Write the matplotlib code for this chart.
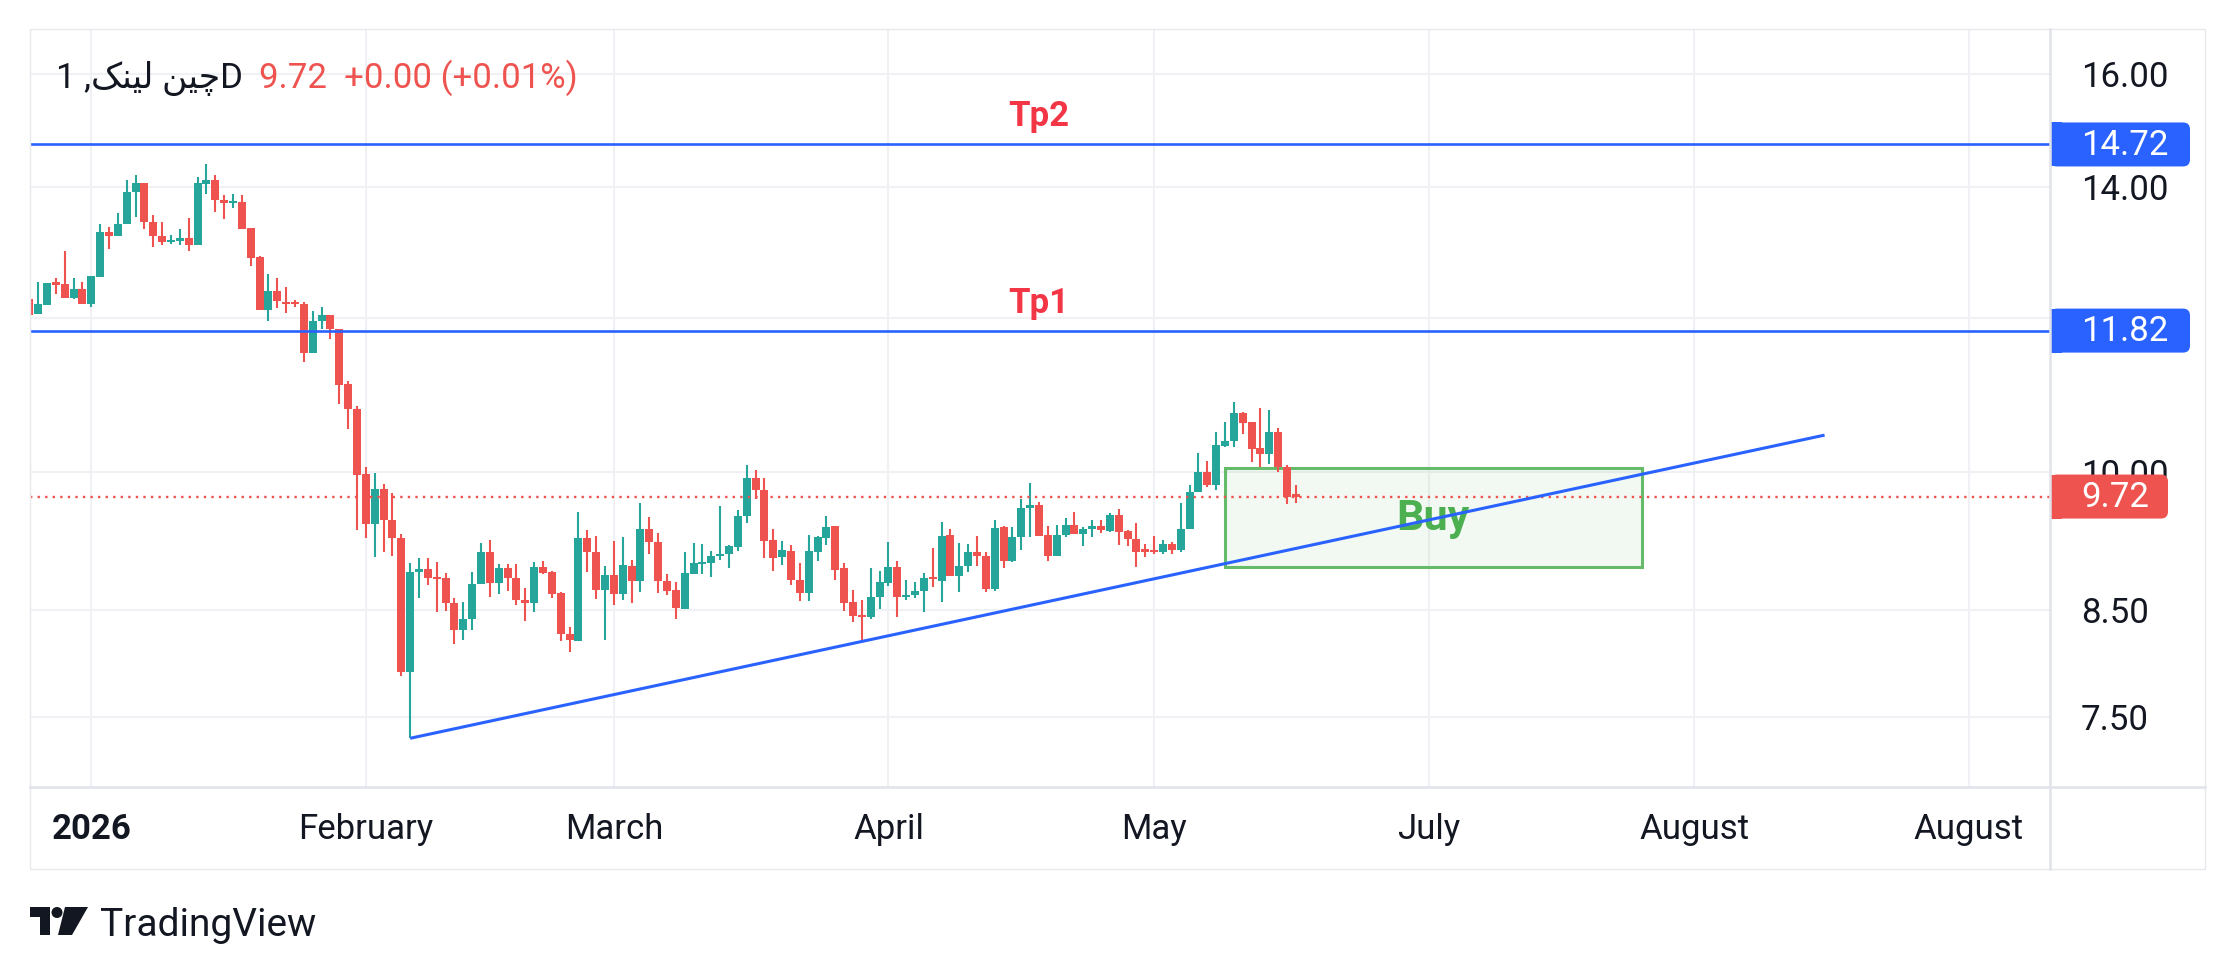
import numpy as np
import matplotlib
matplotlib.use("Agg")
import matplotlib.pyplot as plt
from matplotlib.patches import Rectangle, FancyBboxPatch, Polygon, Circle

plt.rcParams['font.family'] = ['Roboto', 'DejaVu Sans']

# daily candles, x = days since 1 Jan 2026
days = list(range(-7, 137))
opens = [12.27, 12.05, 12.18, 12.50, 12.49, 12.29, 12.42,
         12.19, 12.59, 13.27, 13.22, 13.40, 13.92, 14.06, 13.44, 13.22, 13.12,
         13.13, 13.19, 13.07, 14.05, 14.12, 13.79, 13.74, 13.75, 13.34, 12.89,
         12.11, 12.39, 12.23, 12.21, 12.20, 11.51, 11.95, 12.04, 11.84, 11.10,
         10.78, 9.98, 9.41, 9.81, 9.46, 9.26, 7.90, 8.89, 8.92, 8.83,
         8.83, 8.57, 8.31, 8.41, 8.77, 9.10, 8.78, 8.93, 8.83, 8.60,
         8.57, 8.95, 8.89, 8.68, 8.27, 8.20, 9.26, 9.11, 8.71, 8.86,
         8.67, 8.96, 8.80, 9.36, 9.21, 8.80, 8.71, 8.51, 8.87, 8.98,
         8.99, 9.06, 9.08, 9.16, 9.50, 9.93, 9.80, 9.23, 9.05, 9.12,
         8.81, 8.68, 9.10, 9.26, 9.39, 8.93, 8.58, 8.44, 8.43, 8.63,
         8.78, 8.95, 8.63, 8.66, 8.70, 8.84, 8.80, 9.29, 8.85, 8.96,
         9.10, 9.06, 8.72, 9.38, 9.01, 9.27, 9.59, 9.62, 9.29, 9.06,
         9.29, 9.40, 9.30, 9.36, 9.39, 9.33, 9.51, 9.33, 9.25, 9.12,
         9.11, 9.10, 9.19, 9.13, 9.36, 9.77, 10.00, 9.85, 10.32, 10.38,
         10.72, 10.61, 10.29, 10.22, 10.49, 10.07, 9.73]
highs = [12.40, 12.52, 12.50, 12.58, 12.99, 12.57, 12.52,
         12.61, 13.41, 13.36, 13.57, 14.12, 14.20, 14.06, 13.54, 13.43, 13.23,
         13.33, 13.50, 14.17, 14.39, 14.20, 13.87, 13.89, 13.87, 13.34, 12.90,
         12.64, 12.57, 12.44, 12.26, 12.22, 12.10, 12.16, 12.04, 11.84, 11.14,
         10.81, 10.07, 9.99, 9.86, 9.76, 9.30, 8.99, 9.04, 9.04, 9.00,
         8.88, 8.62, 8.58, 8.89, 9.20, 9.24, 8.98, 8.98, 8.98, 8.73,
         9.00, 9.01, 8.90, 8.69, 8.33, 9.54, 9.34, 9.28, 8.96, 9.22,
         9.27, 9.02, 9.65, 9.49, 9.31, 8.87, 8.79, 9.11, 9.20, 9.19,
         9.12, 9.61, 9.18, 9.57, 10.09, 10.03, 9.93, 9.35, 9.22, 9.18,
         8.99, 9.29, 9.28, 9.50, 9.39, 8.99, 8.71, 8.60, 8.94, 8.90,
         9.21, 9.01, 8.81, 8.79, 8.88, 9.15, 9.43, 9.35, 9.20, 9.19,
         9.28, 9.10, 9.45, 9.39, 9.38, 9.69, 9.88, 9.66, 9.39, 9.40,
         9.48, 9.55, 9.38, 9.45, 9.45, 9.53, 9.58, 9.34, 9.42, 9.19,
         9.28, 9.23, 9.21, 9.65, 9.85, 10.23, 10.13, 10.49, 10.61, 10.86,
         10.74, 10.61, 10.79, 10.77, 10.54, 10.09, 9.85]
lows = [12.04, 12.05, 12.18, 12.34, 12.29, 12.27, 12.19,
        12.16, 12.59, 13.01, 13.22, 13.40, 13.51, 13.33, 13.05, 13.08, 13.09,
        13.08, 12.98, 13.07, 13.88, 13.60, 13.48, 13.65, 13.33, 12.75, 12.11,
        11.95, 12.14, 12.07, 12.15, 11.39, 11.51, 11.84, 11.71, 10.84, 10.53,
        9.34, 9.26, 9.05, 9.10, 9.06, 7.87, 7.31, 8.62, 8.76, 8.48,
        8.49, 8.17, 8.21, 8.31, 8.77, 8.63, 8.67, 8.70, 8.55, 8.39,
        8.48, 8.87, 8.62, 8.20, 8.09, 8.20, 8.89, 8.61, 8.21, 8.55,
        8.60, 8.57, 8.69, 9.08, 8.68, 8.65, 8.41, 8.51, 8.87, 8.87,
        8.84, 9.02, 8.93, 9.12, 9.42, 9.69, 9.04, 8.90, 8.97, 8.76,
        8.59, 8.59, 9.01, 9.18, 8.81, 8.49, 8.38, 8.20, 8.41, 8.51,
        8.75, 8.43, 8.60, 8.62, 8.48, 8.74, 8.58, 8.85, 8.69, 8.89,
        8.96, 8.69, 8.70, 8.94, 9.00, 9.13, 9.27, 9.28, 9.01, 9.06,
        9.27, 9.30, 9.17, 9.27, 9.31, 9.32, 9.18, 9.17, 8.95, 9.05,
        9.08, 9.08, 9.08, 9.11, 9.36, 9.77, 9.83, 9.79, 10.30, 10.30,
        10.46, 10.12, 10.07, 10.10, 10.01, 9.63, 9.65]
closes = [12.04, 12.19, 12.50, 12.48, 12.29, 12.42, 12.19,
          12.60, 13.27, 13.22, 13.41, 13.92, 14.06, 13.43, 13.21, 13.12, 13.14,
          13.19, 13.07, 14.06, 14.12, 13.78, 13.74, 13.75, 13.33, 12.88, 12.11,
          12.39, 12.24, 12.20, 12.19, 11.51, 11.95, 12.04, 11.84, 11.09, 10.78,
          9.97, 9.41, 9.81, 9.46, 9.26, 7.90, 8.89, 8.92, 8.83, 8.82,
          8.57, 8.31, 8.41, 8.77, 9.10, 8.78, 8.93, 8.83, 8.60, 8.57,
          8.95, 8.88, 8.67, 8.27, 8.21, 9.26, 9.10, 8.71, 8.86, 8.67,
          8.97, 8.80, 9.36, 9.21, 8.80, 8.70, 8.52, 8.88, 8.99, 8.99,
          9.06, 9.08, 9.17, 9.50, 9.93, 9.80, 9.22, 9.04, 9.13, 8.81,
          8.68, 9.12, 9.27, 9.38, 8.91, 8.57, 8.44, 8.43, 8.63, 8.79,
          8.95, 8.63, 8.66, 8.70, 8.83, 8.82, 9.28, 8.85, 8.96, 9.10,
          9.06, 8.72, 9.37, 9.01, 9.27, 9.59, 9.62, 9.28, 9.06, 9.29,
          9.40, 9.30, 9.36, 9.39, 9.34, 9.51, 9.32, 9.25, 9.11, 9.11,
          9.10, 9.19, 9.13, 9.36, 9.77, 10.00, 9.85, 10.33, 10.38, 10.72,
          10.60, 10.28, 10.22, 10.49, 10.06, 9.72, 9.72]

month_days = [0, 31, 59, 90, 120, 151, 181, 212]
month_labels = ['2026', 'February', 'March', 'April', 'May', 'July', 'August', 'August']
price_ticks = [7.5, 8.5, 10, 12, 14, 16]
price_labels = ['7.50', '8.50', '10.00', '', '14.00', '16.00']

last_price = 9.72
tp_levels = [11.82, 14.72]
tp_names = ['Tp1', 'Tp2']
tp_label_day = 107
trend_days = [36, 195.7]
trend_prices = [7.31, 10.45]
buy_days = [128.0, 175.1]
buy_prices = [8.945, 10.05]
title_text = '1 ,\uFB8F\uFEE8\uFBFF\uFEDF \uFEE6\uFBFF\uFB7CD'
quote_text = '9.72  +0.00 (+0.01%)'

UP = '#26a69a'
DOWN = '#ef5350'
BLUE = '#2962ff'
INK = '#131722'

W, H = 2235, 975
fig = plt.figure(figsize=(W / 100, H / 100), dpi=100)
fig.patch.set_facecolor('white')
ax = fig.add_axes([30 / W, 1 - 787 / H, 2020 / W, 758 / H])
ax.set_yscale('log')
ax.set_xlim(-6.92, 221.15)
ax.set_ylim(6.902, 16.866)

# candles
o = np.array(opens)
c = np.array(closes)
cols = [UP if cc >= oo else DOWN for oo, cc in zip(o, c)]
ax.vlines(days, lows, highs, colors=cols, lw=1.5, zorder=3)
bottom = np.minimum(o, c)
height = np.maximum(np.abs(c - o), 0.0025 * bottom)
ax.bar(days, height, bottom=bottom, width=0.9, color=cols, lw=0, zorder=3)

# levels and drawings
for lvl, name in zip(tp_levels, tp_names):
    ax.axhline(lvl, color=BLUE, lw=1.9, zorder=4)
    ax.annotate(name, xy=(tp_label_day, lvl), xytext=(0, 13), textcoords='offset points',
                ha='center', va='baseline', color='#f23645', fontsize=25, fontweight='bold')
ax.axhline(last_price, color=DOWN, lw=1.7, ls=(0, (1, 2.2)), zorder=4)

ax.add_patch(Rectangle((buy_days[0], buy_prices[0]), buy_days[1] - buy_days[0],
                       buy_prices[1] - buy_prices[0], facecolor=(0.298, 0.686, 0.314, 0.07),
                       edgecolor='#66bb6a', lw=2.2, zorder=2))
ax.text(sum(buy_days) / 2 - 0.05, 9.47, 'Buy', ha='center', va='center', color='#4caf50',
        fontsize=31, fontweight='bold', zorder=3.5)
ax.plot(trend_days, trend_prices, color=BLUE, lw=2.2, zorder=5, solid_capstyle='butt')

# axes styling
ax.minorticks_off()
ax.set_yticks(price_ticks)
ax.set_yticklabels(price_labels)
ax.yaxis.tick_right()
ax.set_xticks(month_days)
ax.set_xticklabels(month_labels)
ax.get_xticklabels()[0].set_fontweight('bold')
ax.tick_params(axis='y', length=0, pad=22.3, labelsize=25, labelcolor=INK)
ax.tick_params(axis='x', length=0, pad=19, labelsize=25, labelcolor=INK)
ax.grid(True, color='#f0f1f4', lw=1.5)
ax.set_axisbelow(True)
for s in ax.spines.values():
    s.set_visible(False)

# overlay in pixel coordinates
ov = fig.add_axes([0, 0, 1, 1], zorder=10)
ov.set_xlim(0, W)
ov.set_ylim(H, 0)
ov.axis('off')

ov.add_patch(Rectangle((30, 29), 2175, 840, fill=False, ec='#e8e9ee', lw=1))
ov.plot([2050, 2050], [29, 869], color='#e0e3eb', lw=1.8)
ov.plot([30, 2205], [787, 787], color='#e0e3eb', lw=1.8)

def price_tag(price, color, width):
    y = H - ax.transData.transform((0, price))[1]
    ov.add_patch(FancyBboxPatch((2050, y - 22), width, 44,
                                boxstyle='round,pad=0,rounding_size=7', fc=color, ec='none'))
    ov.add_patch(Rectangle((2050, y - 22), 12, 44, fc=color, ec='none'))
    ov.text(2081, y + 1, '%.2f' % price, color='white', fontsize=25, va='center')

for lvl in tp_levels:
    price_tag(lvl, BLUE, 140)
price_tag(last_price, DOWN, 118)

ov.text(56, 88, title_text, fontsize=25, color=INK, va='baseline')
ov.text(259, 88, quote_text, fontsize=25, color=DOWN, va='baseline')

# footer logo
ov.add_patch(Polygon([(30, 907), (50, 907), (50, 935), (40, 935), (40, 917), (30, 917)],
                     closed=True, fc=INK, ec='none'))
ov.add_patch(Circle((57, 912.5), 5.5, fc=INK, ec='none'))
ov.add_patch(Polygon([(65, 907), (88, 907), (72, 935), (58, 935)], closed=True, fc=INK, ec='none'))
ov.text(100, 936, 'TradingView', fontsize=28, color=INK, va='baseline')

fig.savefig('out.png', dpi=100, facecolor='white')
